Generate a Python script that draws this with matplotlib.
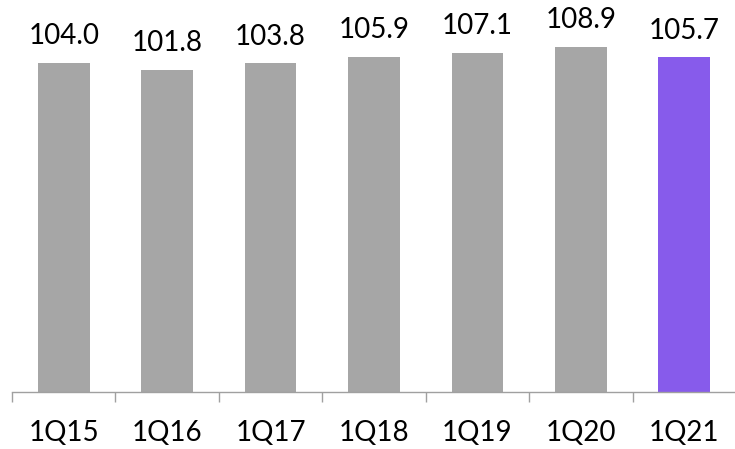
import matplotlib
matplotlib.use("Agg")
import matplotlib.pyplot as plt
import numpy as np

periods = ["1Q15", "1Q16", "1Q17", "1Q18", "1Q19", "1Q20", "1Q21"]
values = [104.0, 101.8, 103.8, 105.9, 107.1, 108.9, 105.7]
highlight = "1Q21"

_GRAY = "#A6A6A6"
_PURPLE = "#875BEB"

plt.rcParams["font.family"] = ["Lato", "DejaVu Sans"]

fig = plt.figure(figsize=(7.35, 4.49), dpi=100)
ax = fig.add_axes([12 / 735, 57 / 449, 724 / 735, 380 / 449])

x = np.arange(len(periods))
colors = [_PURPLE if p == highlight else _GRAY for p in periods]
ax.bar(x, values, width=0.5, color=colors)

for xi, v in zip(x, values):
    ax.annotate(f"{v:.1f}", (xi, v), xytext=(0, 13.5), textcoords="offset points",
                ha="center", va="baseline", fontsize=20, color="black")

ax.set_xlim(-0.5, len(periods) - 0.5)
ax.set_ylim(0, 120)
ax.set_xticks(x)
ax.set_xticklabels(periods, fontsize=20)
ax.tick_params(axis="x", which="major", length=0, pad=20)
ax.set_xticks(np.arange(-0.5, len(periods)), minor=True)
ax.tick_params(axis="x", which="minor", length=7.5, width=1, color="#A0A0A0", direction="out")

ax.set_yticks([])
for side in ["top", "right", "left"]:
    ax.spines[side].set_visible(False)
ax.spines["bottom"].set_color("#A0A0A0")
ax.spines["bottom"].set_linewidth(1)

fig.savefig("out.png", dpi=100)
